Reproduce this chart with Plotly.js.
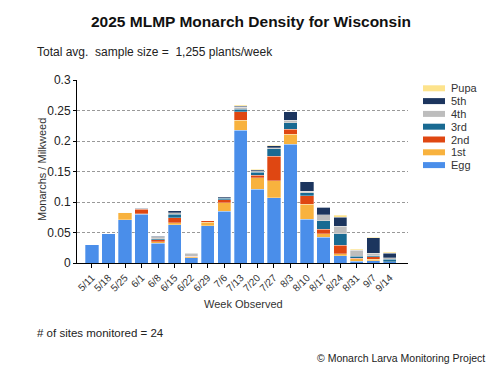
<!DOCTYPE html>
<html><head><meta charset="utf-8">
<script src="https://cdn.plot.ly/plotly-3.0.1.min.js"></script>
<style>html,body{margin:0;padding:0;background:#fff}#chart{width:502px;height:380px}</style>
</head><body><div id="chart"></div>
<script>
var categories = ['5/11','5/18','5/25','6/1','6/8','6/15','6/22','6/29','7/6','7/13','7/20','7/27','8/3','8/10','8/17','8/24','8/31','9/7','9/14'];
var egg    = [0.030,0.048,0.071,0.080,0.032,0.063,0.009,0.061,0.085,0.218,0.121,0.107,0.195,0.072,0.042,0.012,0.003,0.004,0.002];
var first  = [0,0,0.012,0.001,0.003,0.003,0.001,0.006,0.014,0.016,0.019,0.028,0.016,0.024,0.006,0.003,0.004,0.002,0];
var second = [0,0,0,0.007,0.003,0.008,0.001,0.002,0.005,0.014,0.004,0.040,0.008,0.014,0.007,0.014,0.001,0.004,0];
var third  = [0,0,0,0.001,0.002,0.006,0,0,0.002,0.004,0.005,0.012,0.011,0.005,0.014,0.019,0.003,0.002,0.004];
var fourth = [0,0,0,0,0.003,0.002,0.005,0,0.001,0.003,0.002,0.002,0.004,0.003,0.010,0.012,0.010,0.004,0.003];
var fifth  = [0,0,0,0.001,0.001,0.004,0.001,0,0.002,0.002,0.002,0.003,0.014,0.015,0.012,0.015,0.001,0.025,0.007];
var pupa   = [0,0,0,0,0.001,0,0,0,0,0.002,0.001,0.001,0,0,0,0.003,0.001,0.001,0.0015];

var seriesNames  = ['Egg','1st','2nd','3rd','4th','5th','Pupa'];
var seriesValues = [egg, first, second, third, fourth, fifth, pupa];
var seriesColors = ['#4a8eea','#f8b23e','#df4712','#196a92','#bdbdbd','#1c355e','#fde38c'];

var W = 502, H = 380, L = 77, R = 94, T = 80, B = 117;
var pw = W - L - R, ph = H - T - B;
function px(x){ return (x - L) / pw; }
function py(y){ return (H - B - y) / ph; }

var traces = seriesNames.map(function(n, i){
  return {type:'bar', name:n, x:categories, y:seriesValues[i],
    marker:{color:seriesColors[i], line:{color:'rgba(255,255,255,0.6)', width:0.5}},
    showlegend:false, hoverinfo:'skip'};
});

var shapes = [], annotations = [];
// custom legend (top to bottom: Pupa ... Egg)
for (var k = 0; k < seriesNames.length; k++) {
  var idx = seriesNames.length - 1 - k;
  var cy = 88.3 + 12.8 * k;
  shapes.push({type:'rect', xref:'paper', yref:'paper', x0:px(423), x1:px(445), y0:py(cy+3), y1:py(cy-3),
    fillcolor:seriesColors[idx], line:{width:0}});
  annotations.push({xref:'paper', yref:'paper', x:px(449), y:py(cy), xanchor:'left', yanchor:'middle',
    text:seriesNames[idx], showarrow:false, font:{size:11, color:'#333'}});
}
annotations.push({xref:'paper', yref:'paper', x:px(35), y:py(52), xanchor:'left', yanchor:'middle',
  text:'Total avg.  sample size =  1,255 plants/week', showarrow:false, font:{size:12, color:'#222'}});
annotations.push({xref:'paper', yref:'paper', x:px(243), y:py(304), xanchor:'center', yanchor:'middle',
  text:'Week Observed', showarrow:false, font:{size:11, color:'#333'}});
annotations.push({xref:'paper', yref:'paper', x:px(35), y:py(333), xanchor:'left', yanchor:'middle',
  text:'# of sites monitored = 24', showarrow:false, font:{size:11.5, color:'#222'}});
annotations.push({xref:'paper', yref:'paper', x:px(487), y:py(358), xanchor:'right', yanchor:'middle',
  text:'© Monarch Larva Monitoring Project', showarrow:false, font:{size:10.5, color:'#222'}});
annotations.push({xref:'paper', yref:'paper', x:px(42), y:py(170), xanchor:'center', yanchor:'middle', textangle:-90,
  text:'Monarchs / Milkweed', showarrow:false, font:{size:11, color:'#333'}});

var layout = {
  width:W, height:H, margin:{l:L, r:R, t:T, b:B},
  paper_bgcolor:'#fff', plot_bgcolor:'#fff',
  font:{family:'"Liberation Sans", Arial, sans-serif', color:'#222'},
  title:{text:'<b>2025 MLMP Monarch Density for Wisconsin</b>', x:0.5, xref:'container', y:1-22/H, yref:'container',
    xanchor:'center', yanchor:'middle', font:{size:15.5, color:'#111'}},
  barmode:'stack', bargap:0.2,
  xaxis:{type:'category', range:[-0.9, 19.1], showline:true, linecolor:'#000', linewidth:1,
    ticks:'outside', ticklen:4, tickcolor:'#000', tickangle:-45, tickfont:{size:10, color:'#333'},
    showgrid:false, fixedrange:true},
  yaxis:{range:[0, 0.3], dtick:0.05, tickvals:[0,0.05,0.1,0.15,0.2,0.25,0.3], ticktext:['0','0.05','0.1','0.15','0.2','0.25','0.3'],
    showline:true, linecolor:'#000', linewidth:1, ticks:'outside', ticklen:3, tickcolor:'#000',
    tickfont:{size:12, color:'#222'}, showgrid:true, gridcolor:'#999', griddash:'3px,2px', gridwidth:1,
    zeroline:false, fixedrange:true},
  shapes:shapes, annotations:annotations, showlegend:false
};
Plotly.newPlot('chart', traces, layout, {staticPlot:true, displayModeBar:false});
</script></body></html>
